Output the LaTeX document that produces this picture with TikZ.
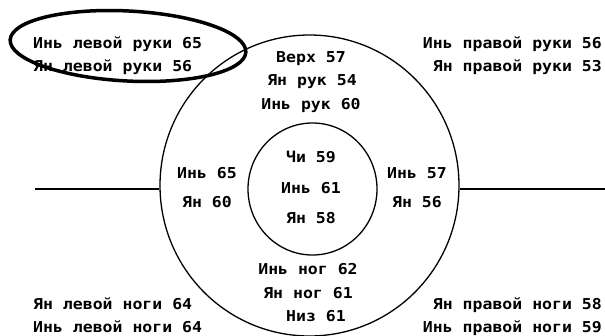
\documentclass[tikz,border=0pt]{standalone}
\usepackage{fontspec}
\setmonofont[FakeStretch=1.1]{DejaVu Sans Mono}
\usetikzlibrary{shapes.geometric}
\tikzset{
  lbl/.style={font=\ttfamily\bfseries\fontsize{15}{15}\selectfont, inner sep=0pt, anchor=base},
  lbll/.style={lbl, anchor=base west},
  lblr/.style={lbl, anchor=base east},
  ring/.style={draw, line width=1.3pt, ellipse, inner sep=0pt},
  conn/.style={line width=1.3pt},
}
\begin{document}
\begin{tikzpicture}[x=1pt,y=-1pt]
\useasboundingbox (0,0) rectangle (605,335);
\node[ring, minimum width=299pt, minimum height=301pt] (outer) at (309.5,185.5) {};
\node[ring, minimum width=129pt, minimum height=132pt] (inner) at (312.5,189) {};
\node[draw, ellipse, line width=3.5pt, minimum width=236pt, minimum height=70pt, rotate=-3] (hl) at (128,46) {};
\coordinate (lend) at (35,189);
\coordinate (rend) at (605,189);
\draw[conn] (lend) -- (lend -| outer.west);
\draw[conn] (rend) -- (rend -| outer.east);
% corner labels
\node[lbll] (a1) at (33,48) {Инь левой руки 65};
\node[lbll] (a2) at (33,71) {Ян левой руки 56};
\node[lblr] (b1) at (602,48) {Инь правой руки 56};
\node[lblr] (b2) at (602,71) {Ян правой руки 53};
\node[lbll] (c1) at (33,309) {Ян левой ноги 64};
\node[lbll] (c2) at (33,332) {Инь левой ноги 64};
\node[lblr] (d1) at (602,309) {Ян правой ноги 58};
\node[lblr] (d2) at (602,332) {Инь правой ноги 59};
% ring labels
\node[lbl] (t1) at (311,62) {Верх 57};
\node[lbl] (t2) at (312,85) {Ян рук 54};
\node[lbl] (t3) at (311,109) {Инь рук 60};
\node[lbl] (l1) at (207,178) {Инь 65};
\node[lbl] (l2) at (207,207) {Ян 60};
\node[lbl] (r1) at (417,178) {Инь 57};
\node[lbl] (r2) at (417,207) {Ян 56};
\node[lbl] (m1) at (311,162) {Чи 59};
\node[lbl] (m2) at (311,193) {Инь 61};
\node[lbl] (m3) at (311,223) {Ян 58};
\node[lbl] (u1) at (308,274) {Инь ног 62};
\node[lbl] (u2) at (308,298) {Ян ног 61};
\node[lbl] (u3) at (316,321) {Низ 61};
\end{tikzpicture}
\end{document}
